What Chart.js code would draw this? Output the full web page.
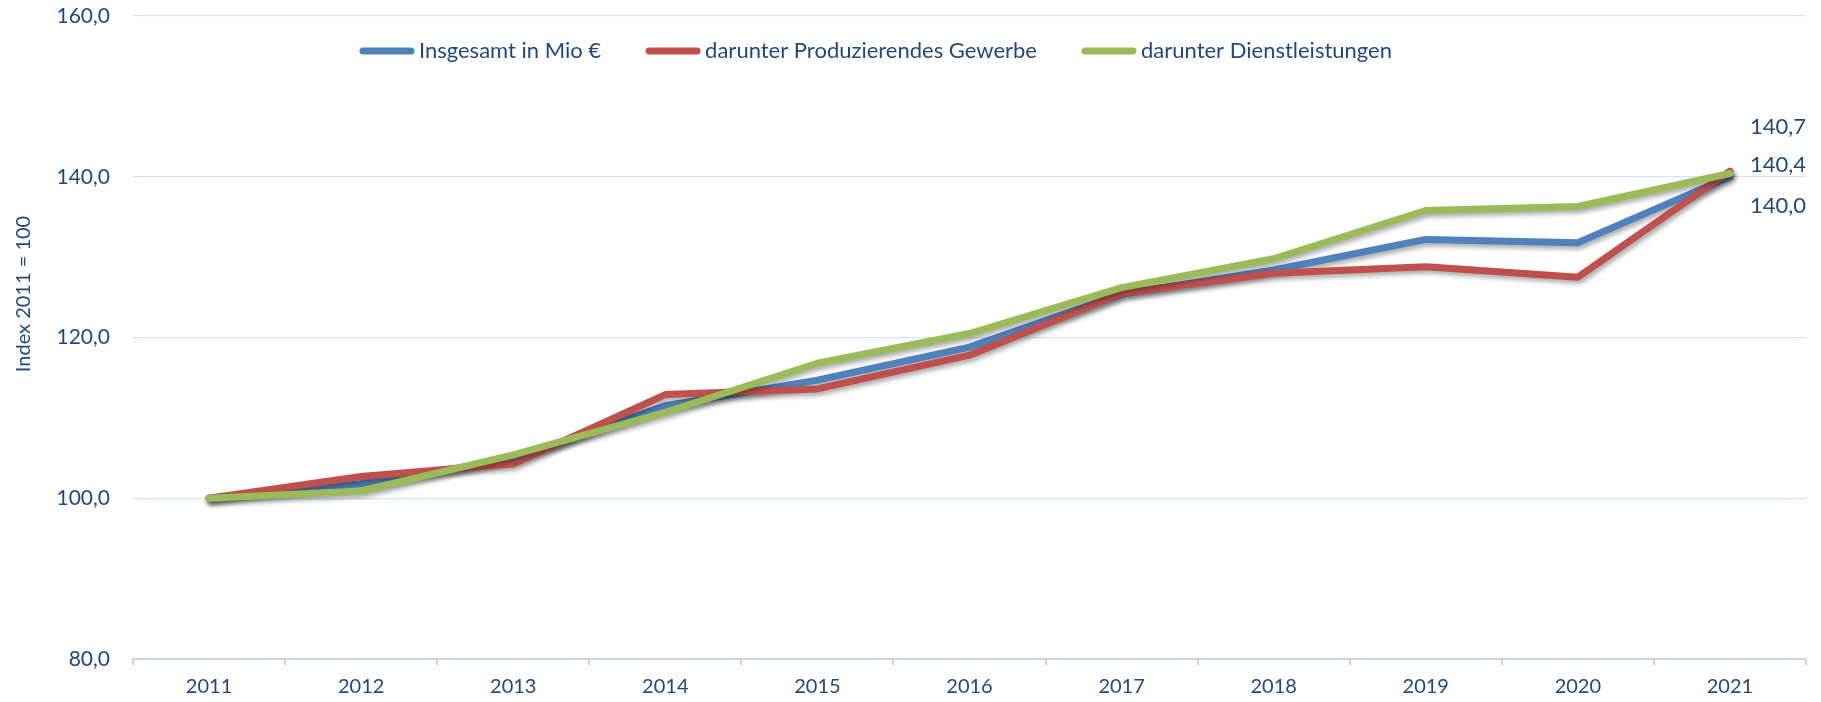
<!DOCTYPE html>
<html>
<head>
<meta charset="utf-8">
<script src="https://cdn.jsdelivr.net/npm/chart.js@4.4.1/dist/chart.umd.min.js"></script>
<style>
    html, body { margin: 0; padding: 0; background: #fff; }
</style>
</head>
<body>
<canvas id="indexChart" width="1821" height="702"></canvas>
<script>
// values (index 2011 = 100)
const years = ['2011','2012','2013','2014','2015','2016','2017','2018','2019','2020','2021'];
const insgesamt = [100, 101.8, 104.9, 111.5, 114.7, 118.8, 125.4, 128.4, 132.2, 131.8, 140.0];
const produzierend = [100, 102.7, 104.3, 112.9, 113.6, 117.8, 125.5, 128.0, 128.8, 127.5, 140.7];
const dienstleistung = [100, 100.9, 105.4, 110.7, 116.8, 120.5, 126.2, 129.8, 135.8, 136.3, 140.4];
const yTicks = [80, 100, 120, 140, 160];

const textColor = '#1F497D';
const fontFamily = 'Lato, "Noto Sans", sans-serif';

function fmt(v) {
    return v.toFixed(1).replace('.', ',');
}

// soft grey shadow under each line, like the office chart
const lineShadow = {
    id: 'lineShadow',
    beforeDatasetDraw(chart) {
        const ctx = chart.ctx;
        ctx.save();
        ctx.shadowColor = 'rgba(0,0,0,0.35)';
        ctx.shadowBlur = 5;
        ctx.shadowOffsetX = 2;
        ctx.shadowOffsetY = 3;
    },
    afterDatasetDraw(chart) {
        chart.ctx.restore();
    }
};

// value labels at the last year + legend inside the plot + y title
const extras = {
    id: 'extras',
    afterDraw(chart) {
        const ctx = chart.ctx;
        const ds = chart.data.datasets;

        ctx.save();
        ctx.fillStyle = textColor;

        // end labels
        ctx.font = '22px ' + fontFamily;
        ctx.textAlign = 'left';
        ctx.textBaseline = 'middle';
        ds.forEach(function (d, i) {
            const meta = chart.getDatasetMeta(i);
            const last = meta.data.length - 1;
            const pt = meta.data[last];
            ctx.fillText(fmt(d.data[last]), pt.x + 20, pt.y + d.labelDy);
        });

        // legend (series order: blue, red, green)
        ctx.font = '22px ' + fontFamily;
        const items = ds.slice().reverse();
        const sample = 54, gapText = 5, gapItem = 45;
        let total = 0;
        items.forEach(function (d, i) {
            total += sample + gapText + ctx.measureText(d.label).width;
            if (i < items.length - 1) total += gapItem;
        });
        let x = 876 - total / 2;
        const y = 51;
        items.forEach(function (d) {
            ctx.strokeStyle = d.borderColor;
            ctx.lineWidth = 7;
            ctx.lineCap = 'round';
            ctx.beginPath();
            ctx.moveTo(x + 3, y);
            ctx.lineTo(x + sample - 3, y);
            ctx.stroke();
            x += sample + gapText;
            ctx.fillStyle = textColor;
            ctx.fillText(d.label, x, y);
            x += ctx.measureText(d.label).width + gapItem;
        });

        // y axis title
        ctx.translate(24, 294);
        ctx.rotate(-Math.PI / 2);
        ctx.textAlign = 'center';
        ctx.font = '20px ' + fontFamily;
        ctx.fillText('Index 2011 = 100', 0, 0);

        ctx.restore();
    }
};

const ctx = document.getElementById('indexChart').getContext('2d');

new Chart(ctx, {
    type: 'line',
    data: {
        labels: years,
        datasets: [
            {
                label: 'darunter Dienstleistungen',
                data: dienstleistung,
                borderColor: '#9BBB59',
                labelDy: -9
            },
            {
                label: 'darunter Produzierendes Gewerbe',
                data: produzierend,
                borderColor: '#C0504D',
                labelDy: -44
            },
            {
                label: 'Insgesamt in Mio €',
                data: insgesamt,
                borderColor: '#4F81BD',
                labelDy: 29
            }
        ]
    },
    options: {
        responsive: false,
        animation: false,
        datasets: {
            line: {
                borderWidth: 7,
                pointRadius: 0,
                tension: 0,
                borderCapStyle: 'round',
                borderJoinStyle: 'round',
                fill: false
            }
        },
        layout: {
            padding: { left: 0, right: 15, top: 16, bottom: 0 }
        },
        plugins: {
            legend: { display: false },
            tooltip: { enabled: false }
        },
        scales: {
            x: {
                offset: true,
                grid: {
                    offset: true,
                    drawOnChartArea: false,
                    drawTicks: true,
                    tickLength: 6,
                    color: '#c6d6ea',
                    lineWidth: 2
                },
                border: {
                    display: true,
                    color: '#c6d6ea',
                    width: 2
                },
                ticks: {
                    color: textColor,
                    font: { family: fontFamily, size: 20 },
                    padding: 10
                },
                afterFit: function (scale) {
                    scale.height = 43;
                }
            },
            y: {
                min: 80,
                max: 160,
                afterBuildTicks: function (scale) {
                    scale.ticks = yTicks.map(function (v) { return { value: v }; });
                },
                grid: {
                    color: '#d9e3f0',
                    lineWidth: 1.3,
                    drawTicks: false
                },
                border: { display: false },
                ticks: {
                    color: textColor,
                    font: { family: fontFamily, size: 21 },
                    padding: 23,
                    callback: function (v) { return fmt(v); }
                },
                afterFit: function (scale) {
                    scale.width = 133;
                    scale.paddingTop = 0;
                    scale.paddingBottom = 0;
                }
            }
        }
    },
    plugins: [lineShadow, extras]
});
</script>
</body>
</html>
